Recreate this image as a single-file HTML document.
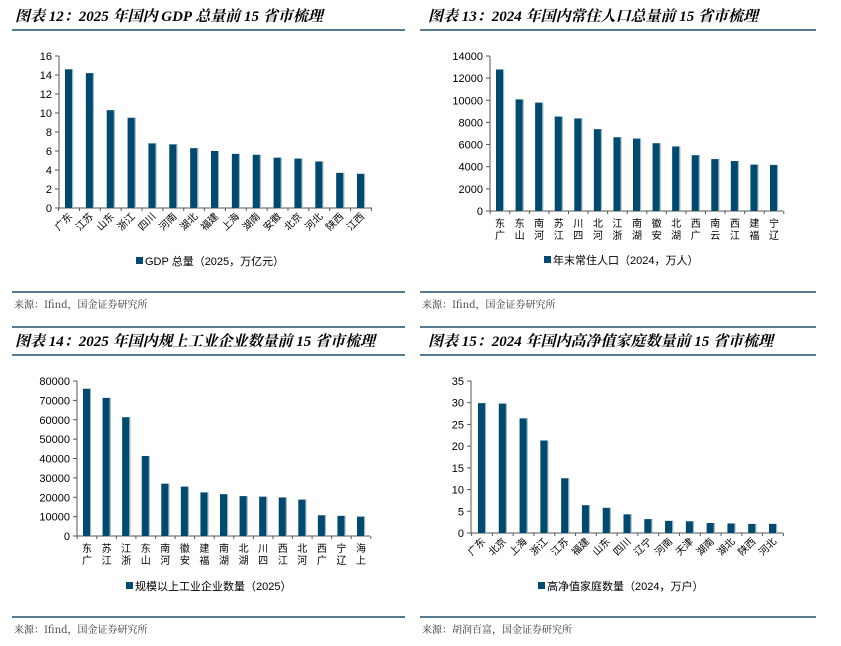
<!DOCTYPE html>
<html><head><meta charset="utf-8">
<style>
body{margin:0;background:#fff;width:841px;height:646px;overflow:hidden;font-family:"Liberation Sans","Noto Sans CJK SC",sans-serif}
svg{position:absolute;left:0;top:0}
.t{font-family:"Liberation Serif","Noto Serif CJK SC",serif;font-weight:bold;font-style:italic;font-size:15px;fill:#000}
.tick{font-size:11px;fill:#000}
.cat{font-size:10px;fill:#000;font-family:"Noto Sans CJK SC",sans-serif}
.src{font-size:10px;fill:#333;font-family:"Noto Serif CJK SC",serif}
.leg{font-size:11px;fill:#000}
</style></head><body>
<svg id="s" width="841" height="646"></svg>
<script>
const gdpCats=["广东","江苏","山东","浙江","四川","河南","湖北","福建","上海","湖南","安徽","北京","河北","陕西","江西"];
const gdpVals=[14.6,14.2,10.3,9.5,6.8,6.7,6.3,6.0,5.7,5.6,5.3,5.2,4.9,3.7,3.6];
const gdpTicks=[0,2,4,6,8,10,12,14,16];
const popCats=["广东","山东","河南","江苏","四川","河北","浙江","湖南","安徽","湖北","广西","云南","江西","福建","辽宁"];
const popVals=[12780,10080,9790,8530,8360,7390,6660,6540,6120,5830,5040,4690,4510,4190,4160];
const popTicks=[0,2000,4000,6000,8000,10000,12000,14000];
const indCats=["广东","江苏","浙江","山东","河南","安徽","福建","湖南","湖北","四川","江西","河北","广西","辽宁","上海"];
const indVals=[76000,71300,61300,41300,27000,25500,22500,21600,20600,20300,19900,18800,10700,10400,10000];
const indTicks=[0,10000,20000,30000,40000,50000,60000,70000,80000];
const hnwCats=["广东","北京","上海","浙江","江苏","福建","山东","四川","辽宁","河南","天津","湖南","湖北","陕西","河北"];
const hnwVals=[29.9,29.8,26.4,21.3,12.6,6.4,5.8,4.3,3.2,2.8,2.7,2.3,2.2,2.1,2.1];
const hnwTicks=[0,5,10,15,20,25,30,35];

const NS="http://www.w3.org/2000/svg";
const svg=document.getElementById('s');
function mk(tag,attrs,parent,text){const e=document.createElementNS(NS,tag);for(const k in attrs)e.setAttribute(k,attrs[k]);if(text!==undefined)e.textContent=text;(parent||svg).appendChild(e);return e;}

function panel(o){
  const g=mk('g',{});
  
  
  if(o.topLine){const l=mk('line',{x1:o.lx1,x2:o.lx2,y1:o.topLine,y2:o.topLine,stroke:'#1f4e6e','stroke-width':1.5},g);}
  const t=mk('text',{x:o.tx,y:o.ty,class:'t'},g,o.title);
  
  
  const l1=mk('line',{x1:o.lx1,x2:o.lx2,y1:o.tl,y2:o.tl,stroke:'#1f4e6e','stroke-width':1.5},g);
  
  
  const max=o.ticks[o.ticks.length-1];
  const y=v=>o.y0-(v/max)*(o.y0-o.yTop);
  const n=o.cats.length;
  const step=(o.xLast-o.xFirst)/(n-1);
  const x=i=>o.xFirst+i*step;
  mk('line',{x1:o.ax,x2:o.ax,y1:o.yTop,y2:o.y0,stroke:'#555'},g);
  mk('line',{x1:o.ax,x2:o.axEnd,y1:o.y0,y2:o.y0,stroke:'#555'},g);
  o.ticks.forEach(v=>{
    mk('line',{x1:o.ax-4,x2:o.ax,y1:y(v),y2:y(v),stroke:'#555'},g);
    const tt=mk('text',{x:o.ax-7,y:y(v)+4,class:'tick','text-anchor':'end'},g,String(v));
    
    
  });
  for(let i=0;i<=n;i++){const xx=o.xFirst-step/2+i*step;mk('line',{x1:xx,x2:xx,y1:o.y0,y2:o.y0+3,stroke:'#555'},g);}
  o.vals.forEach((v,i)=>{
    const r=mk('rect',{x:x(i)-4,y:y(v),width:8,height:o.y0-y(v),fill:'#004a70'},g);
    
    
    const hl=mk('rect',{x:x(i)+3,y:y(v),width:1.2,height:o.y0-y(v),fill:'#9fb8c8'},g);
    if(o.rot){
      const c=mk('text',{class:'cat','text-anchor':'end',transform:`translate(${x(i)+4},${o.y0+9}) rotate(-45)`},g,o.cats[i]);
      
      
    } else {
      const c=mk('text',{class:'cat','text-anchor':'middle'},g);
      
      
      mk('tspan',{x:x(i),y:o.y0+16},c,o.cats[i][1]);
      mk('tspan',{x:x(i),y:o.y0+28},c,o.cats[i][0]);
    }
  });
  const ls=mk('rect',{x:o.legX,y:o.legY-8,width:7,height:7,fill:'#004a70'},g);
  
  
  const lt=mk('text',{x:o.legX+9,y:o.legY,class:'leg'},g,o.legend);
  
  
  const l2=mk('line',{x1:o.lx1,x2:o.lx2,y1:o.bl,y2:o.bl,stroke:'#1f4e6e','stroke-width':1.5},g);
  
  
  const s=mk('text',{x:o.lx1+2,y:o.bl+16,class:'src'},g,o.source);
  
  
}
panel({name:'gdp-chart',title:'图表 12：2025 年国内 GDP 总量前 15 省市梳理',tx:15,ty:21,lx1:12,lx2:405,tl:30,
  cats:gdpCats,vals:gdpVals,ticks:gdpTicks,ax:59,axEnd:372,yTop:56,y0:208,xFirst:69,xLast:361,rot:true,
  legX:136,legY:265,legend:'GDP 总量（2025，万亿元）',bl:292,source:'来源：Ifind，国金证券研究所'});
panel({name:'population-chart',title:'图表 13：2024 年国内常住人口总量前 15 省市梳理',tx:428,ty:21,lx1:420,lx2:816,tl:30,
  cats:popCats,vals:popVals,ticks:popTicks,ax:490,axEnd:783,yTop:56,y0:211,xFirst:500,xLast:774,rot:false,
  legX:544,legY:264,legend:'年末常住人口（2024，万人）',bl:292,source:'来源：Ifind，国金证券研究所'});
panel({name:'industry-chart',title:'图表 14：2025 年国内规上工业企业数量前 15 省市梳理',tx:15,ty:346,lx1:12,lx2:405,tl:355,topLine:327,
  cats:indCats,vals:indVals,ticks:indTicks,ax:77,axEnd:370,yTop:381,y0:536,xFirst:87,xLast:361,rot:false,
  legX:126,legY:590,legend:'规模以上工业企业数量（2025）',bl:617,source:'来源：Ifind，国金证券研究所'});
panel({name:'hnw-chart',title:'图表 15：2024 年国内高净值家庭数量前 15 省市梳理',tx:428,ty:346,lx1:420,lx2:816,tl:355,topLine:327,
  cats:hnwCats,vals:hnwVals,ticks:hnwTicks,ax:471,axEnd:783,yTop:381,y0:533,xFirst:482,xLast:773,rot:true,
  legX:538,legY:590,legend:'高净值家庭数量（2024，万户）',bl:617,source:'来源：胡润百富，国金证券研究所'});
</script>
</body></html>
